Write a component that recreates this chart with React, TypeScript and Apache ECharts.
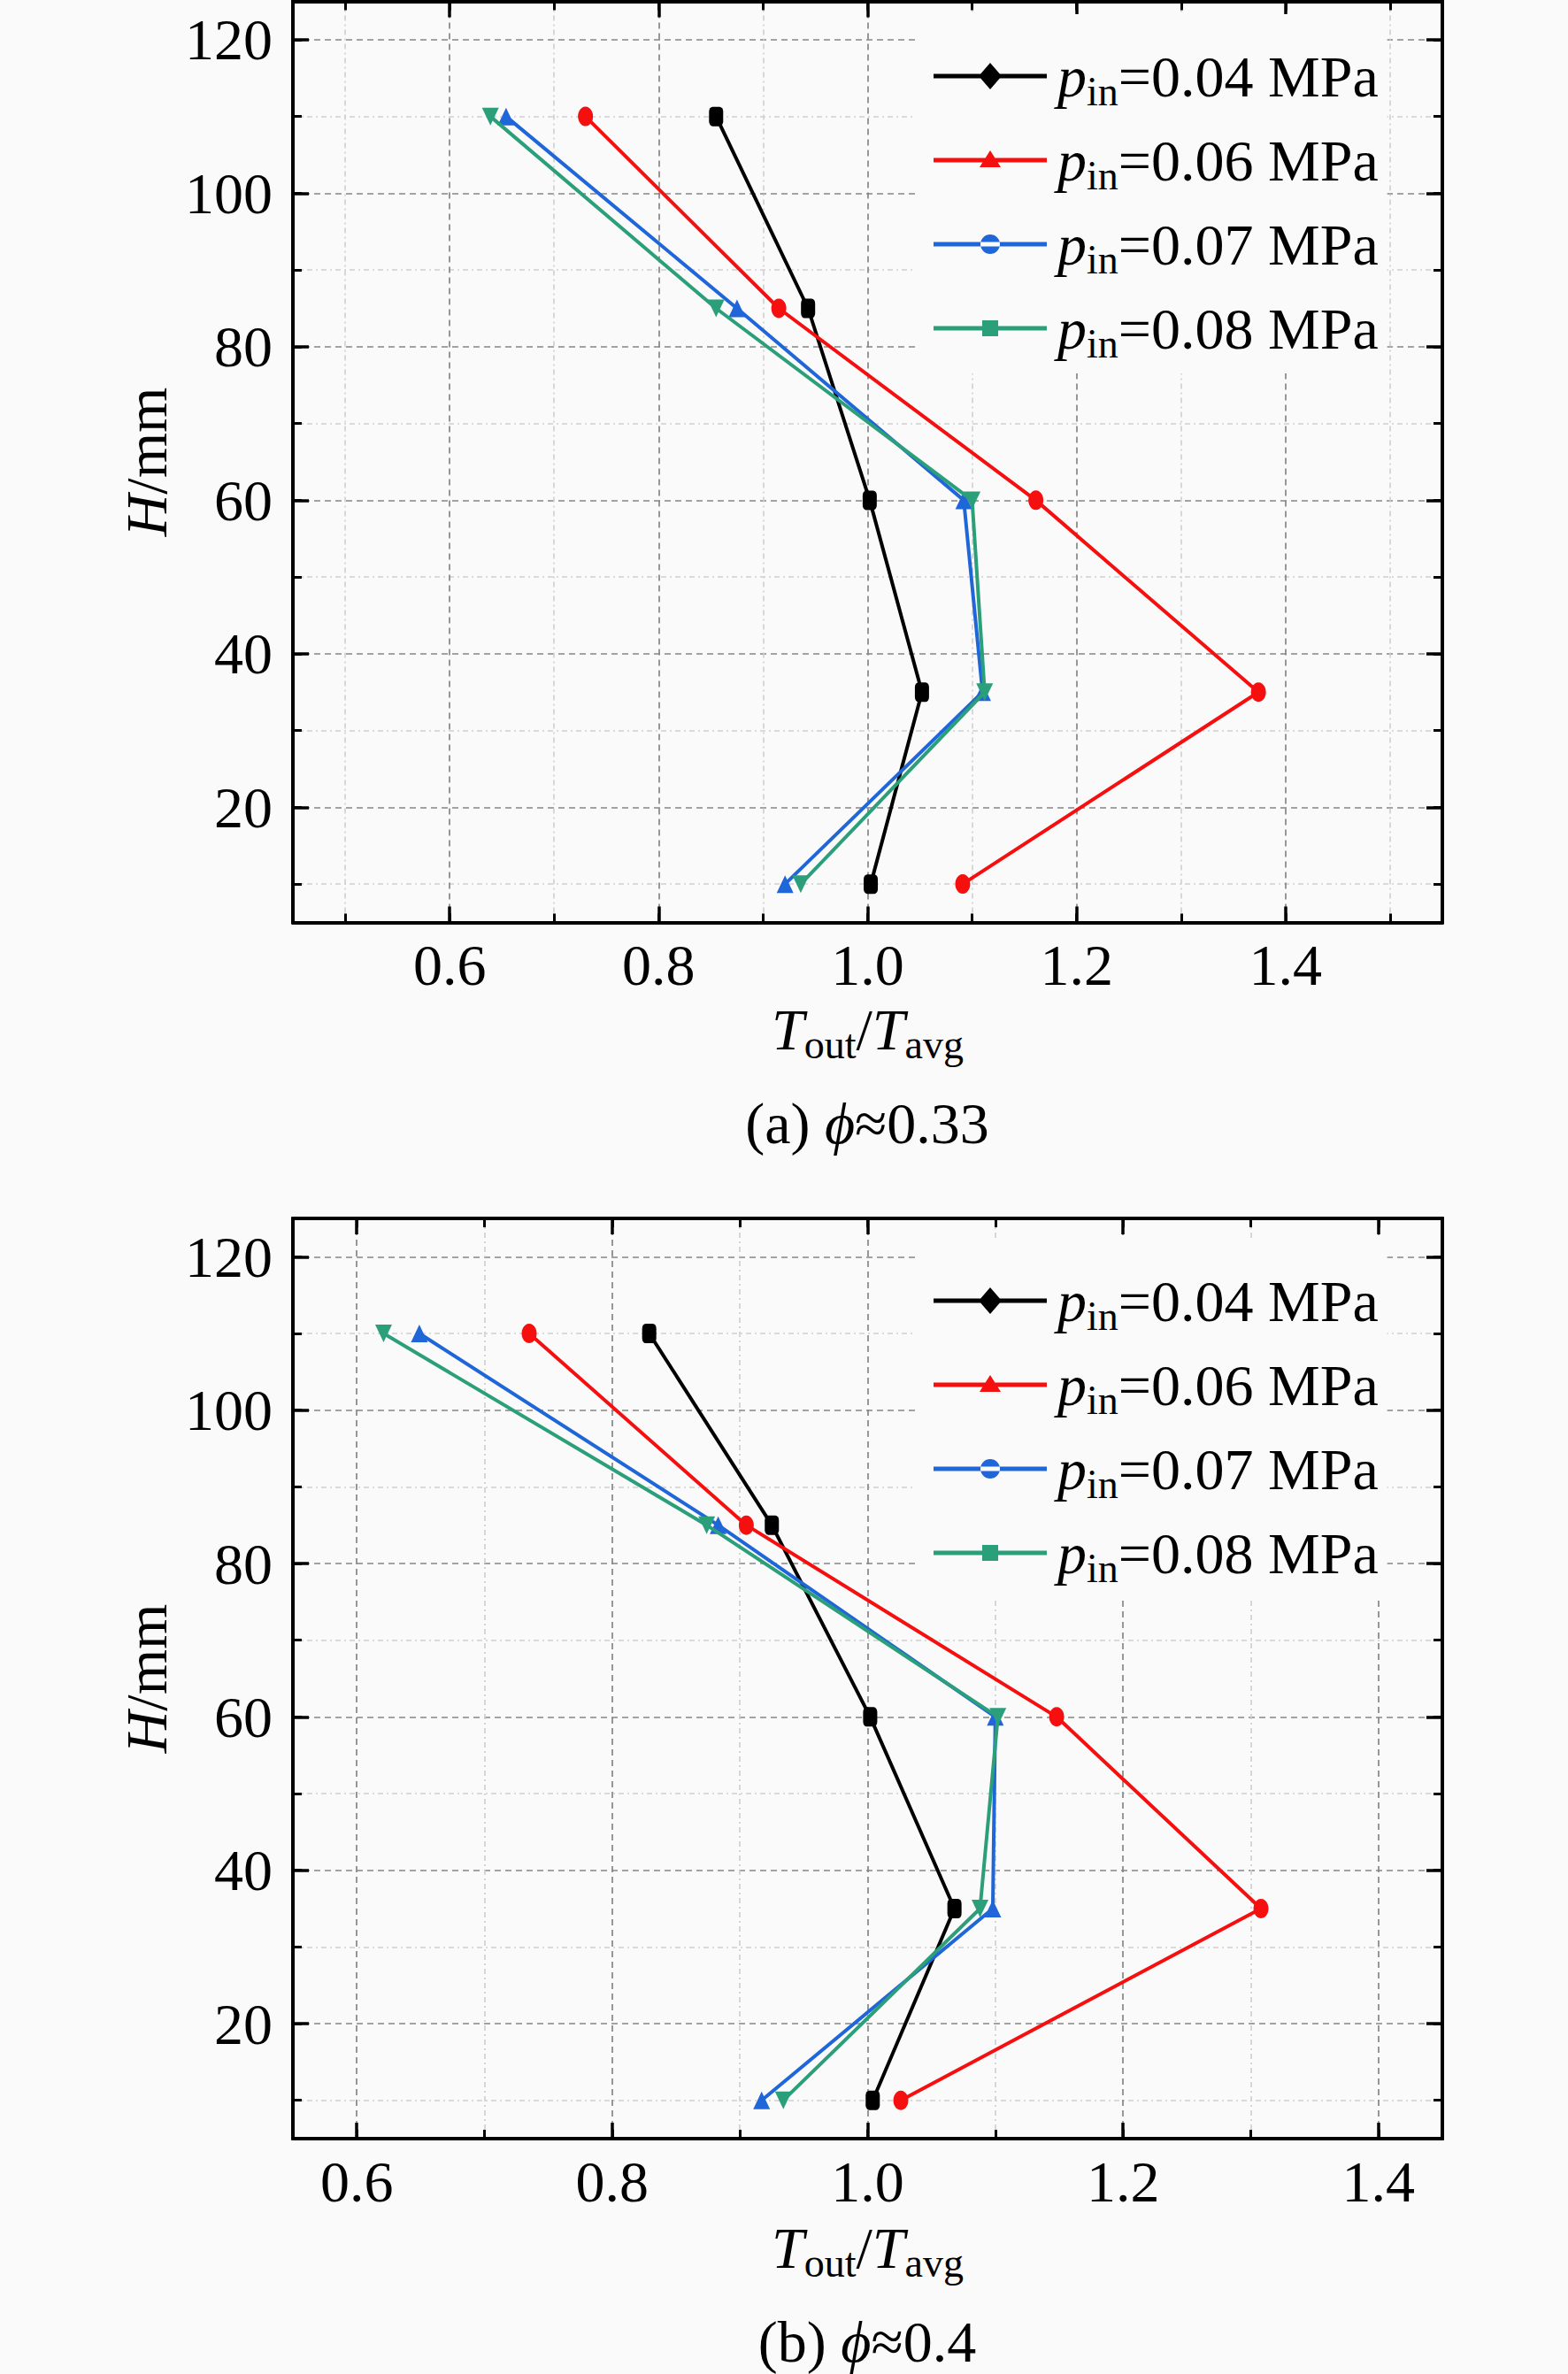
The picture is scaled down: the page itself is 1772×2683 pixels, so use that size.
import React, { useEffect, useRef } from "react";
import * as echarts from "echarts";

// ---------- data ----------
const H_LEVELS = [110, 85, 60, 35, 10];
const SERIES_NAMES = ["p_in=0.04 MPa", "p_in=0.06 MPa", "p_in=0.07 MPa", "p_in=0.08 MPa"];
const LEGEND_LABELS = ["0.04", "0.06", "0.07", "0.08"];

// (a) phi ≈ 0.33
const A_P004 = [0.855, 0.943, 1.002, 1.052, 1.003];
const A_P006 = [0.73, 0.915, 1.161, 1.374, 1.091];
const A_P007 = [0.654, 0.875, 1.092, 1.11, 0.921];
const A_P008 = [0.639, 0.855, 1.1, 1.112, 0.936];
// (b) phi ≈ 0.4
const B_P004 = [0.829, 0.925, 1.002, 1.068, 1.004];
const B_P006 = [0.735, 0.905, 1.148, 1.308, 1.026];
const B_P007 = [0.649, 0.883, 1.1, 1.098, 0.917];
const B_P008 = [0.621, 0.874, 1.102, 1.088, 0.934];

const A_X_RANGE = [0.45, 1.55];
const B_X_RANGE = [0.55, 1.45];
const Y_RANGE = [5, 125];
const CAPTIONS = [
  ["(a) ", "ϕ", "≈0.33"],
  ["(b) ", "ϕ", "≈0.4"],
];

// ---------- styles ----------
const FONT = "'Liberation Serif', 'Times New Roman', 'DejaVu Serif', serif";
const COLORS = ["#000000", "#f50f0f", "#1f66d8", "#2b9f7a"];
const MINOR = "#cfcfcf";
const MAJOR = "#858585";
const TRANSPARENT = "rgba(0,0,0,0)";
const FS = 66;

const RICH = {
  n: { fontFamily: FONT, fontSize: FS, fontWeight: "normal", color: "#000", lineHeight: 80 },
  i: { fontFamily: FONT, fontSize: FS, fontWeight: "normal", fontStyle: "italic", color: "#000", lineHeight: 80 },
  s: { fontFamily: FONT, fontSize: 46, fontWeight: "normal", color: "#000", lineHeight: 44, verticalAlign: "bottom" },
};

const LINE_PATH = "M0,0L0.3,0L0,0.3Z M0,32L0.3,32L0,31.7Z M0,13.5L128,13.5L128,18.5L0,18.5Z";
const LEGEND_ICONS = [
  "path://" + LINE_PATH + " M64,1L77,16L64,31L51,16Z",
  "path://" + LINE_PATH + " M64,5L76,24L52,24Z",
  "path://" + LINE_PATH + " M53,16A11,11 0 1,0 75,16A11,11 0 1,0 53,16Z",
  "path://" + LINE_PATH + " M55,7L73,7L73,25L55,25Z",
];
const SYMBOLS: any[] = [
  { symbol: "roundRect", symbolSize: [16, 22], symbolRotate: 0 },
  { symbol: "circle", symbolSize: [17, 22], symbolRotate: 0 },
  { symbol: "triangle", symbolSize: [19, 20], symbolRotate: 0 },
  { symbol: "triangle", symbolSize: [19, 20], symbolRotate: 180 },
];

const GRIDS = [
  { left: 331, top: 1.5, width: 1299, height: 1041 },
  { left: 331, top: 1377, width: 1299, height: 1040 },
];

function minorCycle(min: number, step: number) {
  const first = Math.ceil(min / step - 1e-9) * step;
  const firstIdx = Math.abs(first - min) < 1e-9 ? 0 : 1;
  const firstIsMinor = Math.round(first / step) % 2 === 1;
  const parity = (firstIdx + (firstIsMinor ? 0 : 1)) % 2;
  return parity === 0 ? [MINOR, TRANSPARENT] : [TRANSPARENT, MINOR];
}

const xLabel = (v: number) => {
  const k = Math.round(v * 10);
  if (Math.abs(v * 10 - k) > 1e-6 || k % 2 !== 0) return "";
  return (k / 10).toFixed(1);
};
const yLabel = (v: number) => (Math.abs(v % 20) < 1e-9 ? String(v) : "");

const axisLine = { show: true, onZero: false, lineStyle: { color: "#000", width: 4 } };

function buildXAxes(g: number, range: number[], nameGap: number) {
  const span = range[1] - range[0];
  const minorSplit = Math.round(span / 0.1);
  const common = { gridIndex: g, type: "value", min: range[0], max: range[1], axisLine };
  return [
    {
      ...common,
      position: "bottom",
      splitNumber: minorSplit,
      axisTick: { show: true, inside: true, length: 10, lineStyle: { color: "#000", width: 3 } },
      axisLabel: { show: false },
      splitLine: { show: true, lineStyle: { color: minorCycle(range[0], 0.1), width: 1.6, type: [6, 4, 2, 4] } },
    },
    {
      ...common,
      position: "bottom",
      splitNumber: 5,
      axisTick: { show: true, inside: true, length: 18, lineStyle: { color: "#000", width: 3.5 } },
      axisLabel: { show: true, margin: 15, formatter: xLabel, color: "#000", fontFamily: FONT, fontSize: FS },
      splitLine: { show: true, lineStyle: { color: MAJOR, width: 1.7, type: [7, 5] } },
      name: "{i|T}{s|out}{n|/}{i|T}{s|avg}",
      nameLocation: "middle",
      nameGap,
      nameTextStyle: { rich: RICH, fontFamily: FONT, fontSize: FS },
    },
    {
      ...common,
      position: "top",
      splitNumber: minorSplit,
      axisTick: { show: true, inside: true, length: 10, lineStyle: { color: "#000", width: 3 } },
      axisLabel: { show: false },
      splitLine: { show: false },
    },
    {
      ...common,
      position: "top",
      splitNumber: 5,
      axisTick: { show: true, inside: true, length: 18, lineStyle: { color: "#000", width: 3.5 } },
      axisLabel: { show: false },
      splitLine: { show: false },
    },
  ];
}

function buildYAxes(g: number) {
  const common = { gridIndex: g, type: "value", min: Y_RANGE[0], max: Y_RANGE[1], axisLine };
  return [
    {
      ...common,
      position: "left",
      splitNumber: 12,
      axisTick: { show: true, inside: true, length: 10, lineStyle: { color: "#000", width: 3 } },
      axisLabel: { show: false },
      splitLine: { show: true, lineStyle: { color: minorCycle(Y_RANGE[0], 10), width: 1.6, type: [6, 4, 2, 4] } },
    },
    {
      ...common,
      position: "left",
      splitNumber: 6,
      axisTick: { show: true, inside: true, length: 18, lineStyle: { color: "#000", width: 3.5 } },
      axisLabel: { show: true, margin: 23, formatter: yLabel, color: "#000", fontFamily: FONT, fontSize: FS },
      splitLine: { show: true, lineStyle: { color: MAJOR, width: 1.7, type: [7, 5] } },
      name: "{i|H}{n|/mm}",
      nameLocation: "middle",
      nameRotate: 90,
      nameGap: 116,
      nameTextStyle: { rich: RICH, fontFamily: FONT, fontSize: FS },
    },
    {
      ...common,
      position: "right",
      splitNumber: 12,
      axisTick: { show: true, inside: true, length: 10, lineStyle: { color: "#000", width: 3 } },
      axisLabel: { show: false },
      splitLine: { show: false },
    },
    {
      ...common,
      position: "right",
      splitNumber: 6,
      axisTick: { show: true, inside: true, length: 18, lineStyle: { color: "#000", width: 3.5 } },
      axisLabel: { show: false },
      splitLine: { show: false },
    },
  ];
}

function buildSeries(g: number, sets: number[][]) {
  return sets.map((xs, k) => ({
    type: "line",
    name: SERIES_NAMES[k],
    xAxisIndex: g * 4 + 1,
    yAxisIndex: g * 4 + 1,
    data: H_LEVELS.map((h, i) => [xs[i], h]),
    symbol: SYMBOLS[k].symbol,
    symbolSize: SYMBOLS[k].symbolSize,
    symbolRotate: SYMBOLS[k].symbolRotate,
    showAllSymbol: true,
    lineStyle: { color: COLORS[k], width: 4 },
    itemStyle: { color: COLORS[k], borderWidth: 0 },
    emphasis: { disabled: true },
    silent: true,
    z: 3 + k,
  }));
}

function buildLegend(topPx: number) {
  return {
    orient: "vertical",
    left: 1035,
    top: topPx,
    padding: [37, 10, 11, 20],
    backgroundColor: "#fafafa",
    itemWidth: 130,
    itemHeight: 32,
    itemGap: 22,
    selectedMode: false,
    itemStyle: { borderWidth: 0 },
    data: SERIES_NAMES.map((n, k) => ({ name: n, icon: LEGEND_ICONS[k] })),
    formatter: (name: string) => {
      const k = SERIES_NAMES.indexOf(name);
      return "{i|p}{s|in}{n|=" + LEGEND_LABELS[k] + " MPa}";
    },
    textStyle: { rich: RICH, fontFamily: FONT, fontSize: FS, color: "#000", padding: [0, 0, 0, 6] },
  };
}

function buildTitle(k: number, topPx: number) {
  const c = CAPTIONS[k];
  return {
    text: "{n|" + c[0] + "}{i|" + c[1] + "}{n|" + c[2] + "}",
    left: 980,
    top: topPx,
    textAlign: "center",
    padding: 0,
    textStyle: { rich: RICH, fontFamily: FONT, fontSize: FS, fontWeight: "normal" },
  };
}

export default function App() {
  const ref = useRef<HTMLDivElement>(null);
  useEffect(() => {
    if (!ref.current) return;
    const chart = echarts.init(ref.current, null, { renderer: "svg" });
    const option: any = {
      animation: false,
      backgroundColor: "#fafafa",
      grid: GRIDS,
      xAxis: [...buildXAxes(0, A_X_RANGE, 81), ...buildXAxes(1, B_X_RANGE, 83)],
      yAxis: [...buildYAxes(0), ...buildYAxes(1)],
      legend: [buildLegend(16), buildLegend(1400)],
      title: [buildTitle(0, 1229), buildTitle(1, 2606)],
      series: [
        ...buildSeries(0, [A_P004, A_P006, A_P007, A_P008]),
        ...buildSeries(1, [B_P004, B_P006, B_P007, B_P008]),
      ],
    };
    chart.setOption(option);
    return () => chart.dispose();
  }, []);
  return (
    <div
      ref={ref}
      style={{ position: "absolute", left: 0, top: 0, width: 1772, height: 2683 }}
    />
  );
}
